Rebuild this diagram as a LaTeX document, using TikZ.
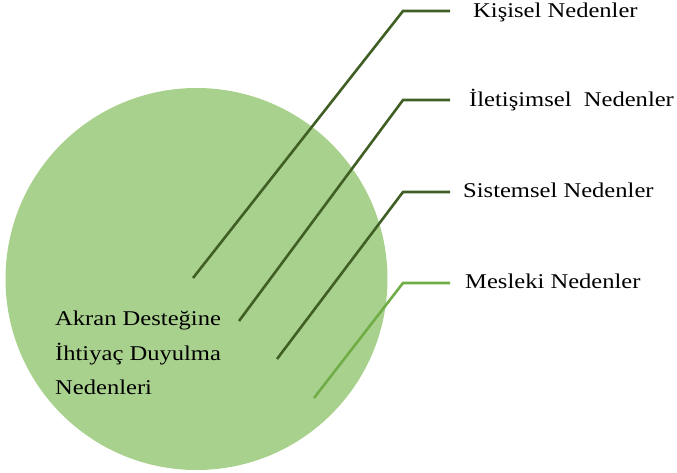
\documentclass[tikz,border=0pt]{standalone}
\usepackage{fontspec}
\setmainfont[FakeStretch=1.17]{Liberation Serif}
\definecolor{circfill}{HTML}{A9D18E}
\definecolor{darkline}{HTML}{3F5F24}
\definecolor{lightline}{HTML}{70AD47}
\begin{document}
\begin{tikzpicture}[x=1pt,y=-1pt,
  lbl/.style={anchor=base west,inner sep=0pt,font=\fontsize{21}{25}\selectfont},
  conn/.style={draw=darkline,line width=2.6pt,line join=miter},
  connlight/.style={draw=lightline,line width=2.6pt,line join=miter}]
\useasboundingbox (0,0) rectangle (677,472);
\node[circle,fill=circfill,minimum size=382pt,inner sep=0pt] (circ) at (196.5,279) {};
\node[lbl] (t1) at (55,325) {Akran Desteğine};
\node[lbl] (t2) at (55,360) {İhtiyaç Duyulma};
\node[lbl] (t3) at (55,394) {Nedenleri};
\node[lbl] (k) at (473,17) {Kişisel Nedenler};
\node[lbl] (i) at (469,106) {İletişimsel\ \ Nedenler};
\node[lbl] (s) at (463,197) {Sistemsel Nedenler};
\node[lbl] (m) at (465,288) {Mesleki Nedenler};
\coordinate (a1) at (193,278); \coordinate (c1) at (403,11); \coordinate (e1) at (450,11);
\coordinate (a2) at (239,321); \coordinate (c2) at (403,100); \coordinate (e2) at (450,100);
\coordinate (a3) at (277,359); \coordinate (c3) at (403,192); \coordinate (e3) at (450,192);
\coordinate (a4) at (314,398); \coordinate (c4) at (403,283); \coordinate (e4) at (450,283);
\draw[conn] (a1) -- (c1) -- (e1);
\draw[conn] (a2) -- (c2) -- (e2);
\draw[conn] (a3) -- (c3) -- (e3);
\draw[connlight] (a4) -- (c4) -- (e4);
\end{tikzpicture}
\end{document}
